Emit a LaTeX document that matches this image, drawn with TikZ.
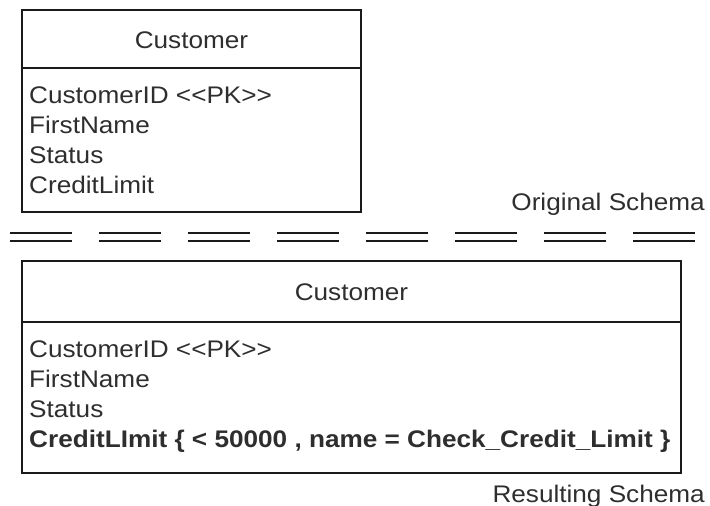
\documentclass[tikz,border=0pt]{standalone}
\usepackage{fontspec}
\setmainfont{Liberation Sans}[FakeStretch=1.09]
\usetikzlibrary{positioning}
\definecolor{inkmain}{HTML}{1A1A1A}
\definecolor{inktext}{HTML}{2E2E2E}
\tikzset{every node/.append style={font=\fontsize{24}{30}\selectfont,text=inktext,inner sep=0pt}}
\tikzset{classbox/.style={draw=inkmain,line width=2pt,anchor=north west},
  attr/.style={anchor=base west},
  sep/.style={inkmain,line width=2.6pt,dash pattern=on 62pt off 27pt}}

\begin{document}
\begin{tikzpicture}[x=1pt,y=-1pt]
\useasboundingbox (0,0) rectangle (710,506);
% original schema
\node[classbox,minimum width=339pt,minimum height=202pt] (orig) at (21,9) {};
\coordinate (origdiv) at (0,68);
\draw[inkmain,line width=2pt] (orig.west |- origdiv) -- (orig.east |- origdiv);
\node (origname) at (orig.north |- 0,40) {Customer};
\node[attr] (o1) at (29,103) {CustomerID <{}<PK>{}>};
\node[attr,below=30pt of o1.base west,anchor=base west] (o2) {FirstName};
\node[attr,below=30pt of o2.base west,anchor=base west] (o3) {Status};
\node[attr,below=30pt of o3.base west,anchor=base west] (o4) {CreditLimit};
\node[anchor=base east] (origlbl) at (705,210) {Original Schema};
% separator
\coordinate (sepa) at (10,233);
\coordinate (sepb) at (700,233);
\coordinate (sepc) at (10,241);
\coordinate (sepd) at (700,241);
\draw[sep] (sepa) -- (sepb);
\draw[sep] (sepc) -- (sepd);
% resulting schema
\node[classbox,minimum width=659pt,minimum height=212pt] (res) at (21,260) {};
\coordinate (resdiv) at (0,322);
\draw[inkmain,line width=2pt] (res.west |- resdiv) -- (res.east |- resdiv);
\node (resname) at (res.north |- 0,292) {Customer};
\node[attr] (r1) at (29,357) {CustomerID <{}<PK>{}>};
\node[attr,below=30pt of r1.base west,anchor=base west] (r2) {FirstName};
\node[attr,below=30pt of r2.base west,anchor=base west] (r3) {Status};
\node[attr,below=30pt of r3.base west,anchor=base west,font=\fontsize{24}{30}\selectfont\bfseries] (r4) {CreditLImit \{ < 50000 , name = Check\_Credit\_Limit \}};
\node[anchor=base east] (reslbl) at (705,502) {Resulting Schema};
\end{tikzpicture}
\end{document}
